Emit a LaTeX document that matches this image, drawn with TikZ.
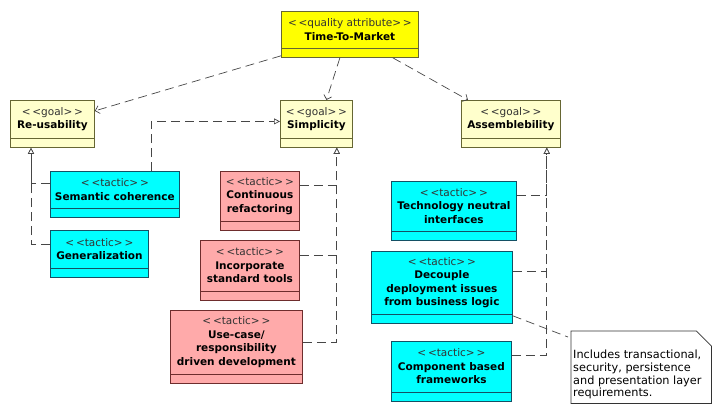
\documentclass[tikz,border=0pt]{standalone}
\usepackage{fontspec}
\setmainfont{DejaVu Sans}
\usetikzlibrary{arrows.meta}

\definecolor{goalfill}{RGB}{255,255,204}
\definecolor{goaldraw}{RGB}{102,102,51}
\definecolor{qafill}{RGB}{255,255,0}
\definecolor{tacticfill}{RGB}{0,255,255}
\definecolor{tacticdraw}{RGB}{20,80,100}
\definecolor{pinkfill}{RGB}{255,170,170}
\definecolor{pinkdraw}{RGB}{110,45,45}
\definecolor{stereogray}{RGB}{50,50,50}
\definecolor{linkgray}{RGB}{70,70,70}

\tikzset{
  qa/.style={draw=goaldraw, fill=qafill, line width=0.8pt, inner sep=0pt},
  goal/.style={draw=goaldraw, fill=goalfill, line width=0.8pt, inner sep=0pt},
  tactic/.style={draw=tacticdraw, fill=tacticfill, line width=0.8pt, inner sep=0pt},
  tacticpink/.style={draw=pinkdraw, fill=pinkfill, line width=0.8pt, inner sep=0pt},
  boxtext/.style={align=center, inner sep=0pt, font=\fontsize{10.5}{13.5}\selectfont},
  dep/.style={draw=linkgray, line width=0.7pt, dash pattern=on 9pt off 5pt, -{Straight Barb[length=4pt,width=8pt]}},
  real/.style={draw=linkgray, line width=0.7pt, dash pattern=on 9pt off 5pt, -{Triangle[open,length=6pt,width=6pt,fill=white]}},
  notelink/.style={draw=linkgray, line width=0.7pt, dash pattern=on 9pt off 5pt},
  notebox/.style={draw=black!80, fill=white, line width=0.7pt},
  notetext/.style={align=left, inner sep=0pt, font=\fontsize{11.3}{12.7}\selectfont},
}

% name, style, x, y, width, height of upper part, text
\newcommand{\umlbox}[7]{%
  \node[#2, anchor=north west, minimum width=#5pt, minimum height=#6pt+9pt] (#1) at (#3,#4) {};
  \draw[#2, fill=none] ([yshift=9pt]#1.south west) -- ([yshift=9pt]#1.south east);
  \node[boxtext] (#1-text) at ([yshift=-#6pt/2]#1.north) {#7};}
\newcommand{\stereo}[1]{{\color{stereogray}<\,<#1>\,>}\\}

\begin{document}
\begin{tikzpicture}[x=1pt,y=-1pt]
    \useasboundingbox (0,0) rectangle (720,413);

    \umlbox{ttm}{qa}{281}{11}{137}{37}{\stereo{quality attribute}\textbf{Time-To-Market}}
    \umlbox{reuse}{goal}{10}{100}{84}{38}{\stereo{goal}\textbf{Re-usability}}
    \umlbox{simp}{goal}{280}{100}{72}{38}{\stereo{goal}\textbf{Simplicity}}
    \umlbox{assem}{goal}{461}{100}{99}{38}{\stereo{goal}\textbf{Assemblebility}}

    \umlbox{sem}{tactic}{50}{171}{129}{37}{\stereo{tactic}\textbf{Semantic coherence}}
    \umlbox{gen}{tactic}{50}{230}{98}{38}{\stereo{tactic}\textbf{Generalization}}

    \umlbox{cont}{tacticpink}{220}{171}{79}{50}{\stereo{tactic}\textbf{Continuous}\\\textbf{refactoring}}
    \umlbox{incorp}{tacticpink}{200}{240}{99}{51}{\stereo{tactic}\textbf{Incorporate}\\\textbf{standard tools}}
    \umlbox{usecase}{tacticpink}{170}{310}{132}{64}{\stereo{tactic}\textbf{Use-case/}\\\textbf{responsibility}\\\textbf{driven development}}

    \umlbox{tech}{tactic}{391}{181}{125}{50}{\stereo{tactic}\textbf{Technology neutral}\\\textbf{interfaces}}
    \umlbox{decouple}{tactic}{371}{251}{141}{63}{\stereo{tactic}\textbf{Decouple}\\\textbf{deployment issues}\\\textbf{from business logic}}
    \umlbox{comp}{tactic}{391}{341}{120}{51}{\stereo{tactic}\textbf{Component based}\\\textbf{frameworks}}

    % note
    \node[anchor=north west, minimum width=140pt, minimum height=72pt, inner sep=0pt] (note) at (571,331) {};
    \draw[notebox] (note.north west) -- ([xshift=-15pt]note.north east) -- ([yshift=-15pt]note.north east)
        -- (note.south east) -- (note.south west) -- cycle;
    \node[notetext, anchor=south west] (note-text) at ([xshift=2pt,yshift=4pt]note.south west)
        {Includes transactional,\\security, persistence\\and presentation layer\\requirements.};

    % dependencies
    \draw[dep] ([yshift=2pt]ttm.south west) -- ([yshift=13pt]reuse.east);
    \draw[dep] ([xshift=-10pt]ttm.south) -- ([xshift=10pt]simp.north);
    \draw[dep] ([xshift=-26pt]ttm.south east) -- ([xshift=7pt]assem.north west);

    % realizations
    \draw[real] ([xshift=36pt]sem.north) |- ([yshift=2.5pt]simp.west);
    \draw[real] ([yshift=-12pt]sem.north west) -| ([xshift=21pt]reuse.south west);
    \draw[real] ([yshift=-14pt]gen.north west) -| ([xshift=21pt]reuse.south west);
    \draw[real] ([yshift=-14pt]cont.north east) -| ([xshift=-16pt]simp.south east);
    \draw[real] ([yshift=-15pt]incorp.north east) -| ([xshift=-16pt]simp.south east);
    \draw[real] ([yshift=-32pt]usecase.north east) -| ([xshift=-16pt]simp.south east);
    \draw[real] ([yshift=-14pt]tech.north east) -| ([xshift=-14pt]assem.south east);
    \draw[real] ([yshift=-20pt]decouple.north east) -| ([xshift=-14pt]assem.south east);
    \draw[real] ([yshift=-14pt]comp.north east) -| ([xshift=-14pt]assem.south east);
    \draw[notelink] ([yshift=8pt]decouple.south east) -- ([xshift=-3pt,yshift=-6pt]note.north west);
\end{tikzpicture}
\end{document}
